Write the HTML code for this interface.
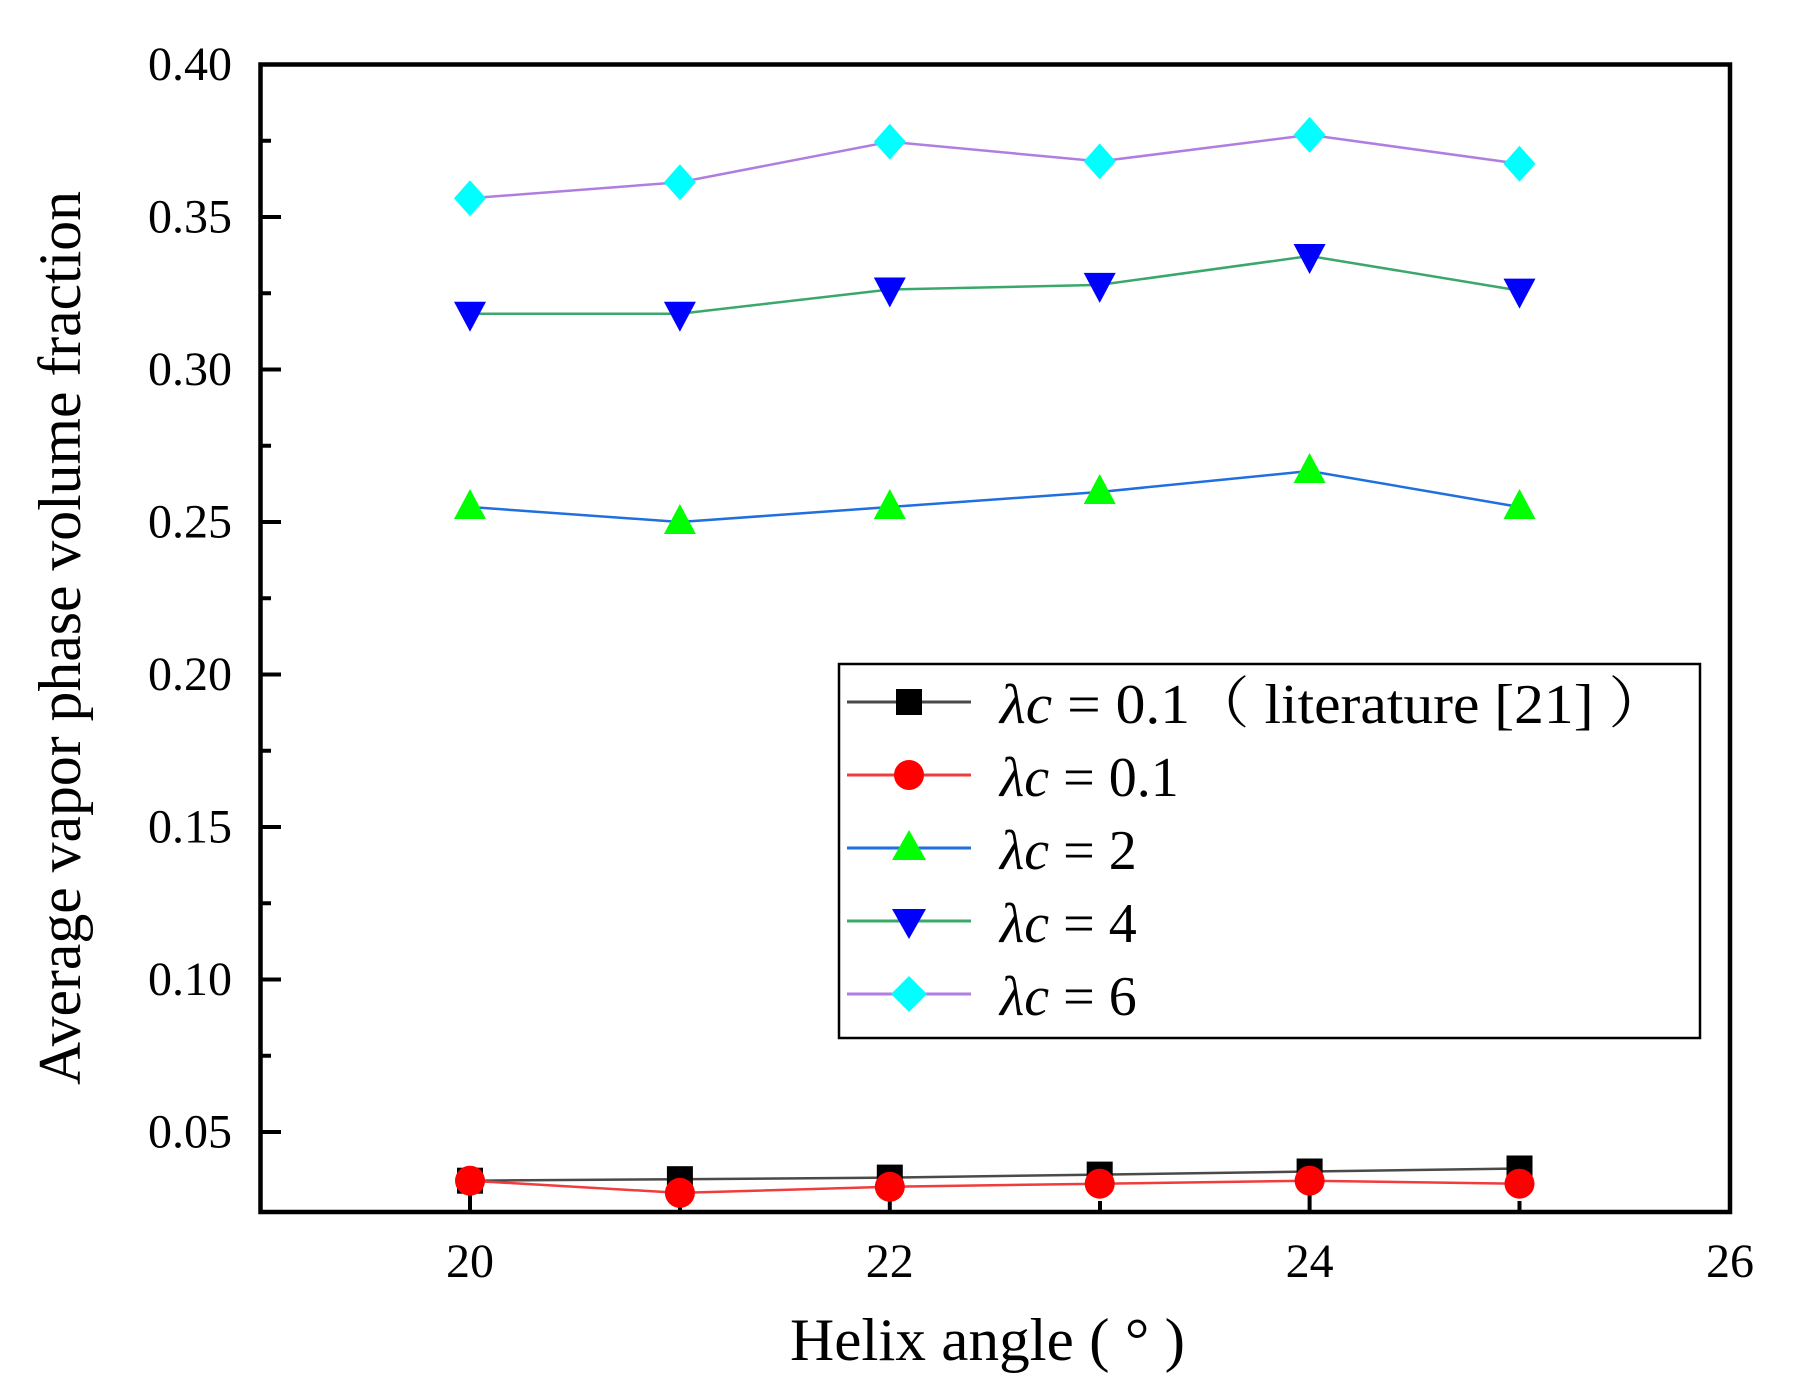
<!DOCTYPE html>
<html><head><meta charset="utf-8"><style>html,body{margin:0;padding:0;background:#fff}svg{display:block}</style></head><body>
<svg width="1808" height="1398" viewBox="0 0 1808 1398" xmlns="http://www.w3.org/2000/svg" font-family="'Liberation Serif', serif">
<rect width="1808" height="1398" fill="#fff"/>
<g stroke="#000" stroke-width="4">
<line x1="260" y1="217" x2="281" y2="217"/><line x1="260" y1="369.5" x2="281" y2="369.5"/><line x1="260" y1="522" x2="281" y2="522"/><line x1="260" y1="674.5" x2="281" y2="674.5"/><line x1="260" y1="827" x2="281" y2="827"/><line x1="260" y1="979.5" x2="281" y2="979.5"/><line x1="260" y1="1132" x2="281" y2="1132"/>
<line x1="260" y1="140.75" x2="271" y2="140.75"/><line x1="260" y1="293.25" x2="271" y2="293.25"/><line x1="260" y1="445.75" x2="271" y2="445.75"/><line x1="260" y1="598.25" x2="271" y2="598.25"/><line x1="260" y1="750.75" x2="271" y2="750.75"/><line x1="260" y1="903.25" x2="271" y2="903.25"/><line x1="260" y1="1055.75" x2="271" y2="1055.75"/>
<line x1="470" y1="1212" x2="470" y2="1190"/><line x1="889.8" y1="1212" x2="889.8" y2="1190"/><line x1="1309.6" y1="1212" x2="1309.6" y2="1190"/>
<line x1="680" y1="1212" x2="680" y2="1201"/><line x1="1100" y1="1212" x2="1100" y2="1201"/><line x1="1519.5" y1="1212" x2="1519.5" y2="1201"/>
</g>
<rect x="260.5" y="64.5" width="1469.5" height="1147.5" fill="none" stroke="#000" stroke-width="4.5"/>
<g font-size="48" fill="#000" text-anchor="end">
<text x="232" y="80">0.40</text><text x="232" y="232.5">0.35</text><text x="232" y="385">0.30</text><text x="232" y="537.5">0.25</text><text x="232" y="690">0.20</text><text x="232" y="842.5">0.15</text><text x="232" y="995">0.10</text><text x="232" y="1147.5">0.05</text>
</g>
<g font-size="48" fill="#000" text-anchor="middle">
<text x="470" y="1277">20</text><text x="889.8" y="1277">22</text><text x="1309.6" y="1277">24</text><text x="1730" y="1277">26</text>
</g>
<text x="790" y="1360" font-size="60" textLength="395" lengthAdjust="spacingAndGlyphs">Helix angle ( ° )</text>
<text transform="translate(80,638) rotate(-90)" font-size="60" text-anchor="middle" textLength="894" lengthAdjust="spacingAndGlyphs">Average vapor phase volume fraction</text>
<g transform="translate(0,9)">
<polyline fill="none" stroke="#4a4a4a" stroke-width="2.5" points="470,1171.7 679.9,1170.2 889.8,1168.6 1099.7,1165.6 1309.6,1162.5 1519.5,1159.5"/>
<g fill="#000"><rect x="457" y="1158.7" width="26" height="26"/><rect x="666.9" y="1157.2" width="26" height="26"/><rect x="876.8" y="1155.6" width="26" height="26"/><rect x="1086.7" y="1152.6" width="26" height="26"/><rect x="1296.6" y="1149.5" width="26" height="26"/><rect x="1506.5" y="1146.5" width="26" height="26"/></g>
<polyline fill="none" stroke="#f03c3c" stroke-width="2.5" points="470,1171.7 679.9,1183.9 889.8,1177.8 1099.7,1174.7 1309.6,1171.7 1519.5,1174.7"/>
<g fill="#f00"><circle cx="470" cy="1171.7" r="15"/><circle cx="679.9" cy="1183.9" r="15"/><circle cx="889.8" cy="1177.8" r="15"/><circle cx="1099.7" cy="1174.7" r="15"/><circle cx="1309.6" cy="1171.7" r="15"/><circle cx="1519.5" cy="1174.7" r="15"/></g>
</g>
<polyline fill="none" stroke="#1f6fdf" stroke-width="2.5" points="470,507 679.9,522 889.8,507 1099.7,492 1309.6,471 1519.5,507"/>
<g fill="#0f0"><path d="M470,489 l-16,30 h32z"/><path d="M679.9,504 l-16,30 h32z"/><path d="M889.8,489 l-16,30 h32z"/><path d="M1099.7,474 l-16,30 h32z"/><path d="M1309.6,453 l-16,30 h32z"/><path d="M1519.5,489 l-16,30 h32z"/></g>
<polyline fill="none" stroke="#3aa86a" stroke-width="2.5" points="470,313.7 679.9,313.7 889.8,289.5 1099.7,284.9 1309.6,256 1519.5,290.6"/>
<g fill="#00f"><path d="M470,331.7 l-16,-30 h32z"/><path d="M679.9,331.7 l-16,-30 h32z"/><path d="M889.8,307.5 l-16,-30 h32z"/><path d="M1099.7,302.9 l-16,-30 h32z"/><path d="M1309.6,274 l-16,-30 h32z"/><path d="M1519.5,308.6 l-16,-30 h32z"/></g>
<polyline fill="none" stroke="#b07ee0" stroke-width="2.5" points="470,198.3 679.9,182.2 889.8,141.8 1099.7,161.4 1309.6,134.9 1519.5,163.8"/>
<g fill="#0ff"><path d="M470,180.3 l-16,18 16,18 16,-18z"/><path d="M679.9,164.2 l-16,18 16,18 16,-18z"/><path d="M889.8,123.8 l-16,18 16,18 16,-18z"/><path d="M1099.7,143.4 l-16,18 16,18 16,-18z"/><path d="M1309.6,116.9 l-16,18 16,18 16,-18z"/><path d="M1519.5,145.8 l-16,18 16,18 16,-18z"/></g>
<rect x="839" y="664" width="861" height="374" fill="#fff" stroke="#000" stroke-width="2.5"/>
<line x1="847" y1="702" x2="971" y2="702" stroke="#4a4a4a" stroke-width="3"/><rect x="896" y="689" width="26" height="26" fill="#000"/>
<line x1="847" y1="775" x2="971" y2="775" stroke="#f03c3c" stroke-width="3"/><circle cx="909" cy="775" r="15" fill="#f00"/>
<line x1="847" y1="848" x2="971" y2="848" stroke="#1f6fdf" stroke-width="3"/><path d="M909,830 l-17,30 h34z" fill="#0f0"/>
<line x1="847" y1="921" x2="971" y2="921" stroke="#3aa86a" stroke-width="3"/><path d="M909,939 l-17,-30 h34z" fill="#00f"/>
<line x1="847" y1="994" x2="971" y2="994" stroke="#b07ee0" stroke-width="3"/><path d="M909,976 l-18,18 18,18 18,-18z" fill="#0ff"/>
<g font-size="56" fill="#000" font-family="'Liberation Serif', 'Noto Serif CJK SC', serif">
<text x="1000" y="723" textLength="668" lengthAdjust="spacingAndGlyphs"><tspan font-style="italic">λc</tspan> = 0.1（ literature [21] ）</text>
<text x="1000" y="796"><tspan font-style="italic">λc</tspan> = 0.1</text>
<text x="1000" y="869"><tspan font-style="italic">λc</tspan> = 2</text>
<text x="1000" y="942"><tspan font-style="italic">λc</tspan> = 4</text>
<text x="1000" y="1015"><tspan font-style="italic">λc</tspan> = 6</text>
</g>
</svg>
</body></html>
